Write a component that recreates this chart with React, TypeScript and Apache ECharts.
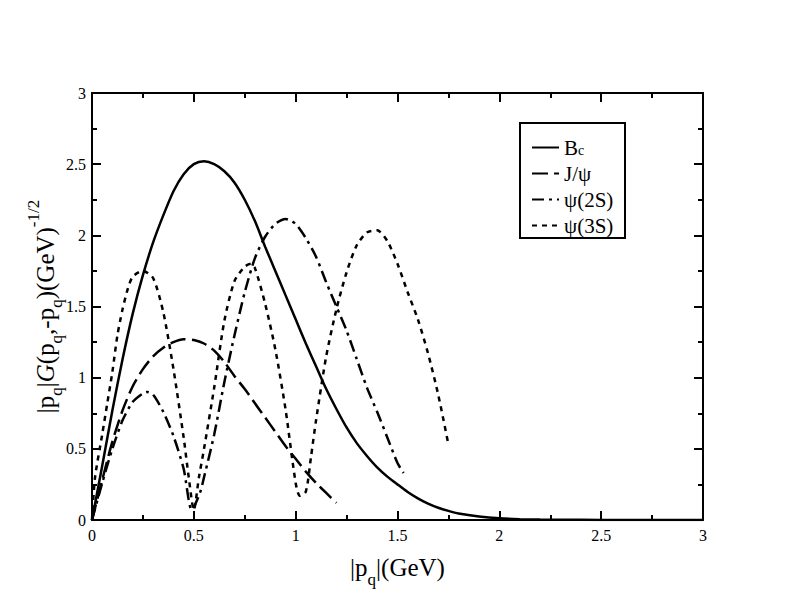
import React, { useEffect, useRef } from "react";
import * as echarts from "echarts";

// B_c (solid)
const bcX = [0, 0.05, 0.1, 0.15, 0.2, 0.25, 0.3, 0.35, 0.4, 0.45, 0.5, 0.55, 0.6, 0.65, 0.7, 0.75, 0.8, 0.85, 0.9, 0.95, 1.0, 1.05, 1.1, 1.15, 1.2, 1.25, 1.3, 1.35, 1.4, 1.45, 1.5, 1.55, 1.6, 1.65, 1.7, 1.75, 1.8, 1.9, 2.0, 2.1, 2.2, 2.4, 2.6, 3.0];
const bcY = [0, 0.38, 0.77, 1.13, 1.45, 1.72, 1.95, 2.14, 2.31, 2.43, 2.5, 2.52, 2.5, 2.45, 2.37, 2.25, 2.1, 1.92, 1.75, 1.58, 1.41, 1.24, 1.08, 0.92, 0.78, 0.65, 0.54, 0.45, 0.37, 0.305, 0.25, 0.197, 0.152, 0.115, 0.086, 0.064, 0.046, 0.025, 0.012, 0.006, 0.003, 0.001, 0, 0];

// J/psi (long dash)
const jpX = [0, 0.05, 0.1, 0.15, 0.2, 0.25, 0.3, 0.35, 0.4, 0.45, 0.5, 0.55, 0.6, 0.65, 0.7, 0.75, 0.8, 0.85, 0.9, 0.95, 1.0, 1.05, 1.1, 1.15, 1.2];
const jpY = [0, 0.28, 0.55, 0.77, 0.94, 1.06, 1.15, 1.21, 1.25, 1.27, 1.265, 1.24, 1.19, 1.11, 1.01, 0.92, 0.82, 0.72, 0.62, 0.52, 0.43, 0.34, 0.26, 0.19, 0.12];

// psi(2S) (dash-dot)
const p2X = [0, 0.05, 0.1, 0.15, 0.2, 0.25, 0.27, 0.3, 0.35, 0.4, 0.45, 0.49, 0.53, 0.55, 0.6, 0.65, 0.7, 0.75, 0.8, 0.85, 0.9, 0.95, 1.0, 1.05, 1.1, 1.15, 1.2, 1.25, 1.3, 1.35, 1.4, 1.45, 1.5, 1.53];
const p2Y = [0, 0.26, 0.5, 0.7, 0.83, 0.89, 0.9, 0.88, 0.76, 0.59, 0.36, 0.07, 0.19, 0.3, 0.6, 0.97, 1.3, 1.6, 1.84, 1.99, 2.08, 2.115, 2.08, 1.98, 1.85, 1.67, 1.5, 1.33, 1.13, 0.93, 0.76, 0.58, 0.4, 0.33];

// psi(3S) (short dash)
const p3X = [0, 0.015, 0.05, 0.075, 0.1, 0.125, 0.15, 0.175, 0.2, 0.25, 0.3, 0.35, 0.4, 0.45, 0.475, 0.5, 0.525, 0.55, 0.6, 0.65, 0.7, 0.75, 0.78, 0.8, 0.85, 0.9, 0.95, 1.0, 1.02, 1.05, 1.075, 1.1, 1.15, 1.2, 1.25, 1.3, 1.35, 1.4, 1.45, 1.5, 1.55, 1.6, 1.65, 1.7, 1.75];
const p3Y = [0, 0.3, 0.6, 0.82, 1.04, 1.3, 1.48, 1.62, 1.71, 1.75, 1.7, 1.46, 1.06, 0.58, 0.3, 0.07, 0.3, 0.5, 0.93, 1.4, 1.68, 1.78, 1.8, 1.77, 1.52, 1.2, 0.78, 0.26, 0.17, 0.2, 0.44, 0.7, 1.15, 1.48, 1.74, 1.93, 2.02, 2.035, 1.96, 1.8, 1.6, 1.41, 1.17, 0.88, 0.53];

const seriesNames = ["B_c", "J/ψ", "ψ(2S)", "ψ(3S)"];
const xTitle = "|p{s|q}|(GeV)";
const yTitle = "|p{s|q}|{i|G}(p{s|q},-p{s|q})(GeV){u|-1/2}";

const FONT = "'Liberation Serif', 'Times New Roman', serif";

export default function App() {
  const ref = useRef<HTMLDivElement>(null);
  useEffect(() => {
    if (!ref.current) return;
    const chart = echarts.init(ref.current, null, { renderer: "svg" });
    const zip = (xs: number[], ys: number[]) => xs.map((x, i) => [x, ys[i]]);
    const axisBase = {
      type: "value",
      min: 0,
      max: 3,
      interval: 0.5,
      splitLine: { show: false },
      axisLine: { show: true, onZero: false, lineStyle: { color: "#000", width: 2 } },
      axisTick: { show: true, inside: true, length: 9, lineStyle: { color: "#000", width: 2 } },
      minorTick: { show: true, splitNumber: 2, length: 5, lineStyle: { color: "#000", width: 2 } },
      minorSplitLine: { show: false },
    };
    const labelStyle = { show: true, color: "#000", fontFamily: FONT, fontSize: 16 };
    const rich = (fs: number) => ({
      s: { fontFamily: FONT, fontSize: 17, lineHeight: 17, verticalAlign: "bottom", color: "#000" },
      u: { fontFamily: FONT, fontSize: 17, lineHeight: 17, verticalAlign: "top", color: "#000" },
      i: { fontFamily: FONT, fontSize: fs, fontStyle: "italic", color: "#000" },
    });
    const mk = (name: string, xs: number[], ys: number[], type: any) => ({
      name,
      type: "line",
      data: zip(xs, ys),
      symbol: "none",
      smooth: 0.25,
      lineStyle: { color: "#000", width: 2.5, type },
      itemStyle: { color: "#000" },
    });
    chart.setOption({
      animation: false,
      backgroundColor: "#fff",
      grid: { left: 92, right: 89, top: 93, bottom: 92, containLabel: false },
      xAxis: [
        {
          ...axisBase,
          position: "bottom",
          axisLabel: { ...labelStyle, margin: 7 },
          name: xTitle,
          nameLocation: "middle",
          nameGap: 19,
          nameTextStyle: { color: "#000", fontFamily: FONT, fontSize: 25, lineHeight: 40, rich: rich(25) },
        },
        { ...axisBase, position: "top", axisLabel: { show: false } },
      ],
      yAxis: [
        { ...axisBase, position: "left", axisLabel: { ...labelStyle, margin: 6 } },
        { ...axisBase, position: "right", axisLabel: { show: false } },
      ],
      legend: {
        orient: "vertical",
        left: 526,
        top: 132,
        itemWidth: 27,
        itemHeight: 20,
        itemGap: 5,
        selectedMode: false,
        data: seriesNames,
        itemStyle: { opacity: 0, borderWidth: 0, color: "rgba(0,0,0,0)" },
        formatter: (n: string) => (n === "B_c" ? "B{s|c}" : n),
        textStyle: {
          color: "#000",
          fontFamily: FONT,
          fontSize: 21,
          lineHeight: 20,
          rich: {
            s: { fontFamily: FONT, fontSize: 14, lineHeight: 14, verticalAlign: "bottom", color: "#000" },
          },
        },
      },
      graphic: [
        {
          type: "rect",
          shape: { x: 520, y: 123, width: 105, height: 115 },
          style: { fill: "none", stroke: "#000", lineWidth: 2 },
          z: 0,
        },
        {
          type: "text",
          x: 45,
          y: 306.5,
          rotation: Math.PI / 2,
          style: {
            text: yTitle,
            fill: "#000",
            fontFamily: FONT,
            fontSize: 25,
            lineHeight: 40,
            align: "center",
            verticalAlign: "middle",
            rich: rich(25),
          },
        },
      ],
      series: [
        mk(seriesNames[0], bcX, bcY, "solid"),
        mk(seriesNames[1], jpX, jpY, [16, 6]),
        mk(seriesNames[2], p2X, p2Y, [12, 5, 3, 5]),
        mk(seriesNames[3], p3X, p3Y, [5, 5]),
      ],
    });
    return () => chart.dispose();
  }, []);
  return (
    <div
      ref={ref}
      style={{ position: "fixed", left: 0, top: 0, width: 792, height: 612, background: "#fff" }}
    />
  );
}
